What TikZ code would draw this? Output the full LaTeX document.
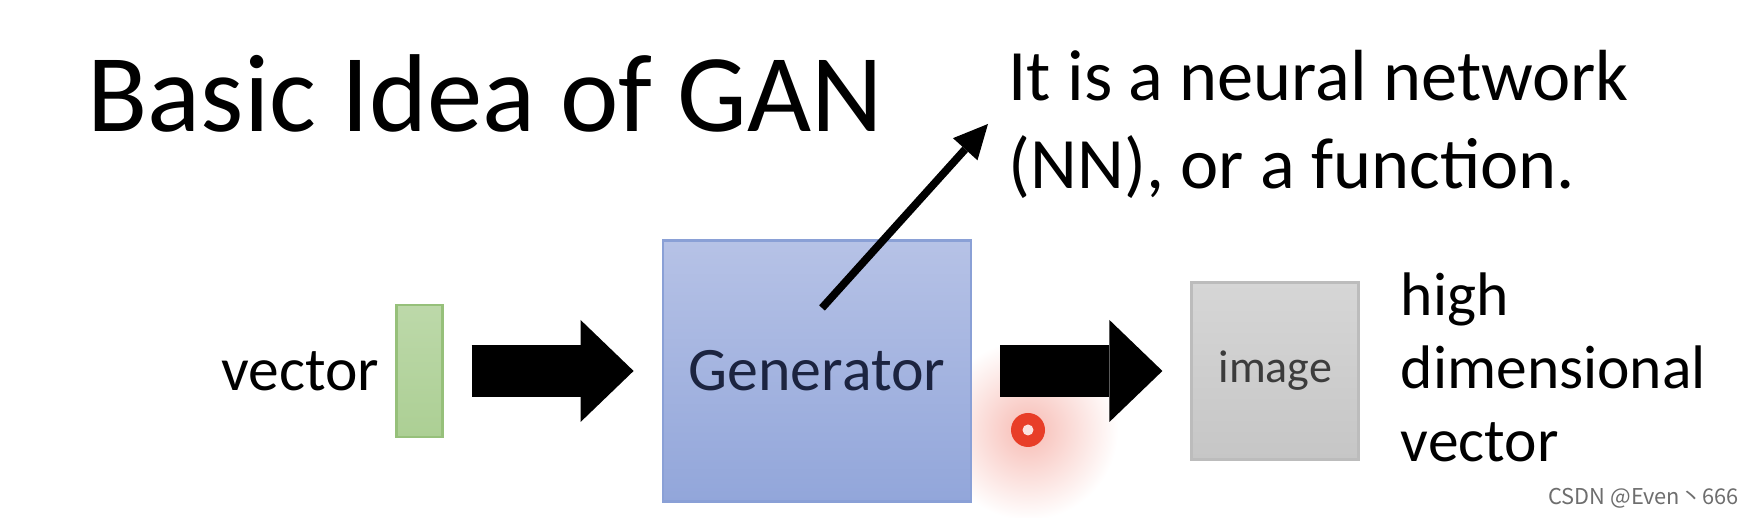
\documentclass[tikz,border=0pt]{standalone}
\usepackage{fontspec}
\setmainfont{Carlito}
\newfontfamily\cjkfont{Noto Sans CJK SC}
\usepackage{tikz}
\usetikzlibrary{
  arrows.meta,
  positioning
}
\definecolor{vecgreen}{RGB}{172, 207, 148}
\definecolor{vecedge}{RGB}{150, 192, 122}
\definecolor{gentop}{RGB}{182, 194, 230}
\definecolor{genbot}{RGB}{146, 166, 218}
\definecolor{genedge}{RGB}{138, 160, 214}
\definecolor{gentext}{RGB}{28, 36, 64}
\definecolor{imgtop}{RGB}{214, 214, 214}
\definecolor{imgbot}{RGB}{198, 198, 198}
\definecolor{imgedge}{RGB}{188, 188, 188}
\definecolor{imgtext}{RGB}{60, 60, 60}
\definecolor{pointred}{RGB}{232, 62, 40}
\definecolor{markgray}{RGB}{110, 110, 110}
\tikzset{
  vecbar/.style = {
    rectangle, draw=vecedge, line width=0.8pt,
    top color=vecgreen!80!white, bottom color=vecgreen,
    minimum width=0.46cm, minimum height=1.32cm, inner sep=0pt
  },
  genbox/.style = {
    rectangle, draw=genedge, line width=0.8pt,
    top color=gentop, bottom color=genbot,
    minimum width=3.08cm, minimum height=2.61cm,
    text=gentext, font=\fontsize{17.6}{20}\selectfont
  },
  imgbox/.style = {
    rectangle, draw=imgedge, line width=0.8pt,
    top color=imgtop, bottom color=imgbot,
    minimum width=1.67cm, minimum height=1.77cm,
    text=imgtext, font=\fontsize{13.1}{16}\selectfont
  },
  lbl/.style = {inner sep=0pt, align=left,
    font=\fontsize{17.5}{20.8}\selectfont},
  blockarr/.style = {-{Triangle[length=5.3mm, width=10.2mm, line width=0pt]},
    line width=5.2mm, shorten <=2.8mm, shorten >=2.8mm},
  ptrarr/.style = {-{Triangle[length=3.4mm, width=3.3mm, line width=0pt]},
    line width=2.2pt},
}

\begin{document}
\begin{tikzpicture}
  \useasboundingbox (0,0) rectangle (17.54,5.18);

  % pointer mark glow (under everything)
  \coordinate (dot) at (10.28,0.88);
  \shade[inner color=pointred!35, outer color=white] (dot) circle (0.9);

  \node[anchor=base west, inner sep=0pt,
        font=\fontsize{31.5}{38}\selectfont] (title) at (0.87,3.86)
    {Basic Idea of GAN};

  % main row
  \node[genbox] (gen) at (8.17,1.47) {Generator};
  \node[vecbar, left=2.18cm of gen] (vec) {};
  \node[imgbox, right=2.18cm of gen] (img) {image};
  \node[lbl, left=0.15cm of vec] (veclbl) {vector};
  \node[lbl, right=0.40cm of img, yshift=0.04cm] (imglbl)
    {high\\dimensional\\vector};

  % note on the generator
  \node[anchor=west, inner sep=2mm, align=left,
        font=\fontsize{20.6}{25}\selectfont] (note) at (9.88,3.94)
    {It is a neural network\\(NN), or a function.};
  \coordinate (gpt) at (8.22,2.10);

  % pointer mark
  \fill[pointred] (dot) circle (0.17);
  \fill[white!85!pointred] (dot) circle (0.055);

  %% Arrows
  \draw[blockarr] (vec) -- (gen);
  \draw[blockarr] (gen) -- (img);
  \draw[ptrarr] (gpt) -- (note.west);

  \node[anchor=east, inner sep=0pt, text=markgray,
        font=\cjkfont\fontsize{6.2}{7}\selectfont] (mark) at (17.39,0.20)
    {CSDN @Even丶666};
\end{tikzpicture}
\end{document}
